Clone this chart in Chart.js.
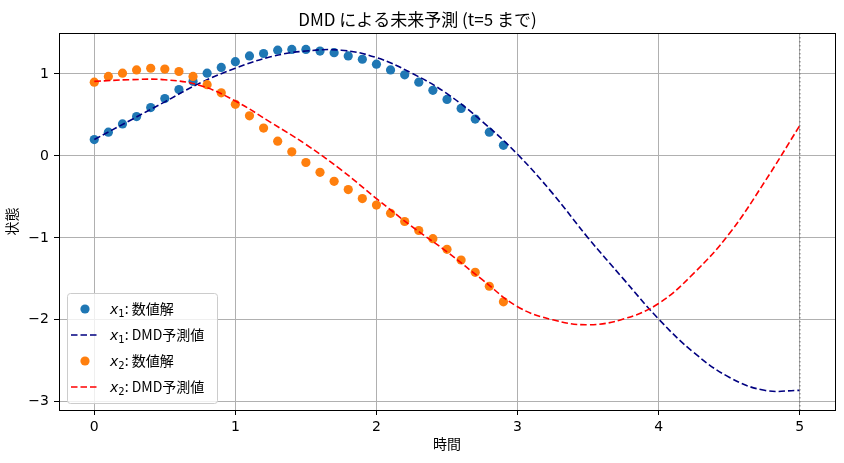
<!DOCTYPE html>
<html>
<head>
<meta charset="utf-8">
<script src="https://cdn.jsdelivr.net/npm/chart.js@4.4.1/dist/chart.umd.min.js"></script>
<style>
  html, body { margin: 0; padding: 0; background: #fff; }
  #wrap { width: 844px; height: 463px; }
</style>
</head>
<body>
<div id="wrap"><canvas id="c"></canvas></div>
<script>
// numerical solution, sampled every 0.1 up to t=2.9
const tNum = [0, 0.1, 0.2, 0.3, 0.4, 0.5, 0.6, 0.7, 0.8, 0.9,
  1.0, 1.1, 1.2, 1.3, 1.4, 1.5, 1.6, 1.7, 1.8, 1.9,
  2.0, 2.1, 2.2, 2.3, 2.4, 2.5, 2.6, 2.7, 2.8, 2.9];
const x1Num = [0.20, 0.29, 0.39, 0.48, 0.59, 0.70, 0.81, 0.91, 1.01, 1.08,
  1.15, 1.22, 1.25, 1.29, 1.30, 1.30, 1.28, 1.26, 1.22, 1.18,
  1.12, 1.05, 0.99, 0.90, 0.80, 0.69, 0.58, 0.45, 0.29, 0.13];
const x2Num = [0.90, 0.97, 1.01, 1.05, 1.07, 1.06, 1.03, 0.97, 0.87, 0.77,
  0.63, 0.49, 0.34, 0.18, 0.05, -0.08, -0.20, -0.31, -0.41, -0.52,
  -0.60, -0.70, -0.80, -0.91, -1.01, -1.14, -1.27, -1.42, -1.59, -1.78];

// DMD prediction, every 0.25
const tPred = [0, 0.25, 0.5, 0.75, 1.0, 1.25, 1.5, 1.75, 2.0, 2.25, 2.5,
  2.75, 3.0, 3.25, 3.5, 3.75, 4.0, 4.25, 4.5, 4.75, 5.0];
const x1Pred = [0.20, 0.43, 0.66, 0.89, 1.07, 1.21, 1.28, 1.29, 1.20, 1.01, 0.76,
  0.42, 0.02, -0.46, -1.00, -1.50, -1.99, -2.40, -2.70, -2.86, -2.86];
const x2Pred = [0.91, 0.93, 0.93, 0.86, 0.67, 0.41, 0.14, -0.17, -0.52, -0.86, -1.17,
  -1.51, -1.84, -2.00, -2.06, -1.99, -1.80, -1.43, -0.95, -0.32, 0.37];

const cutoffT = 5;
const xTicks = [0, 1, 2, 3, 4, 5];
const yTicks = [-3, -2, -1, 0, 1];

const jpFont = '"Noto Sans CJK JP", "DejaVu Sans", sans-serif';
const numFont = '"DejaVu Sans", sans-serif';

const legendRows = [
  { sub: '1', text: ': 数値解', marker: true, color: '#1f77b4' },
  { sub: '1', text: ': DMD予測値', marker: false, color: 'navy' },
  { sub: '2', text: ': 数値解', marker: true, color: '#ff7f0e' },
  { sub: '2', text: ': DMD予測値', marker: false, color: 'red' },
];

function pts(xs, ys) {
  return xs.map((x, i) => ({ x, y: ys[i] }));
}

const DASH = [6.5, 3];

const extras = {
  id: 'extras',
  afterDatasetsDraw(chart) {
    const { ctx, chartArea: a, scales: { x } } = chart;
    const px = x.getPixelForValue(cutoffT);
    ctx.save();
    ctx.strokeStyle = 'gray';
    ctx.lineWidth = 1.5;
    ctx.setLineDash([1.5, 2.5]);
    ctx.beginPath();
    ctx.moveTo(px, a.top);
    ctx.lineTo(px, a.bottom);
    ctx.stroke();
    ctx.restore();
  },
  afterDraw(chart) {
    const { ctx, chartArea: a } = chart;
    ctx.save();
    // full box
    ctx.strokeStyle = '#000';
    ctx.lineWidth = 1;
    ctx.strokeRect(Math.round(a.left) + 0.5, Math.round(a.top) + 0.5,
      Math.round(a.right - a.left), Math.round(a.bottom - a.top));

    // legend (lower left)
    const bw = 150, bh = 110;
    const bx = a.left + 8, by = a.bottom - 7 - bh;
    ctx.beginPath();
    ctx.roundRect(bx + 0.5, by + 0.5, bw, bh, 3);
    ctx.fillStyle = 'rgba(255,255,255,0.8)';
    ctx.fill();
    ctx.strokeStyle = '#cccccc';
    ctx.stroke();

    legendRows.forEach((r, i) => {
      const y = by + 16 + i * 26;
      if (r.marker) {
        ctx.beginPath();
        ctx.arc(bx + 18, y, 4.6, 0, Math.PI * 2);
        ctx.fillStyle = r.color;
        ctx.fill();
      } else {
        ctx.beginPath();
        ctx.setLineDash(DASH);
        ctx.strokeStyle = r.color;
        ctx.lineWidth = 1.5;
        ctx.moveTo(bx + 4, y);
        ctx.lineTo(bx + 32, y);
        ctx.stroke();
        ctx.setLineDash([]);
      }
      let tx = bx + 43;
      const base = y + 5;
      ctx.fillStyle = '#000';
      ctx.textBaseline = 'alphabetic';
      ctx.textAlign = 'left';
      ctx.font = 'italic 14px ' + numFont;
      ctx.fillText('x', tx, base);
      tx += ctx.measureText('x').width;
      ctx.font = '10px ' + numFont;
      ctx.fillText(r.sub, tx, base + 3);
      tx += ctx.measureText(r.sub).width;
      ctx.font = '14px ' + jpFont;
      ctx.fillText(r.text, tx, base);
    });
    ctx.restore();
  }
};

const fmt = (v) => (v < 0 ? '\u2212' + Math.abs(v) : String(v));

new Chart(document.getElementById('c'), {
  type: 'scatter',
  data: {
    datasets: [
      { label: 'x1: 数値解', data: pts(tNum, x1Num), backgroundColor: '#1f77b4',
        borderWidth: 0, pointRadius: 4.6, order: 4 },
      { label: 'x1: DMD予測値', data: pts(tPred, x1Pred), showLine: true, borderColor: 'navy',
        borderWidth: 1.6, borderDash: DASH, pointRadius: 0, tension: 0.4, order: 3 },
      { label: 'x2: 数値解', data: pts(tNum, x2Num), backgroundColor: '#ff7f0e',
        borderWidth: 0, pointRadius: 4.6, order: 2 },
      { label: 'x2: DMD予測値', data: pts(tPred, x2Pred), showLine: true, borderColor: 'red',
        borderWidth: 1.6, borderDash: DASH, pointRadius: 0, tension: 0.4, order: 1 },
    ],
  },
  options: {
    responsive: true,
    maintainAspectRatio: false,
    animation: false,
    events: [],
    layout: { padding: { left: 0, right: 9, top: 0, bottom: 0 } },
    plugins: {
      legend: { display: false },
      tooltip: { enabled: false },
      title: {
        display: true,
        text: 'DMD による未来予測 (t=5 まで)',
        color: '#000',
        font: { family: jpFont, size: 17, weight: 'normal' },
        padding: { top: 9, bottom: 3.6 },
      },
    },
    scales: {
      x: {
        type: 'linear',
        min: -0.25,
        max: 5.25,
        afterBuildTicks: (s) => { s.ticks = xTicks.map((v) => ({ value: v })); },
        afterFit: (s) => { s.height = 53; },
        grid: { color: '#b0b0b0', lineWidth: 1, tickColor: '#000', tickLength: 5 },
        border: { display: false },
        ticks: { color: '#000', padding: 4, font: { family: numFont, size: 14 }, callback: fmt },
        title: { display: true, text: '時間', color: '#000',
          font: { family: jpFont, size: 14 }, padding: { top: 0, bottom: 11 } },
      },
      y: {
        type: 'linear',
        min: -3.1,
        max: 1.5,
        afterBuildTicks: (s) => { s.ticks = yTicks.map((v) => ({ value: v })); },
        afterFit: (s) => { s.width = 59; },
        grid: { color: '#b0b0b0', lineWidth: 1, tickColor: '#000', tickLength: 5 },
        border: { display: false },
        ticks: { color: '#000', padding: 5, font: { family: numFont, size: 14 }, callback: fmt },
        title: { display: true, text: '状態', color: '#000',
          font: { family: jpFont, size: 14 }, padding: { top: 3, bottom: 0 } },
      },
    },
  },
  plugins: [extras],
});
</script>
</body>
</html>
